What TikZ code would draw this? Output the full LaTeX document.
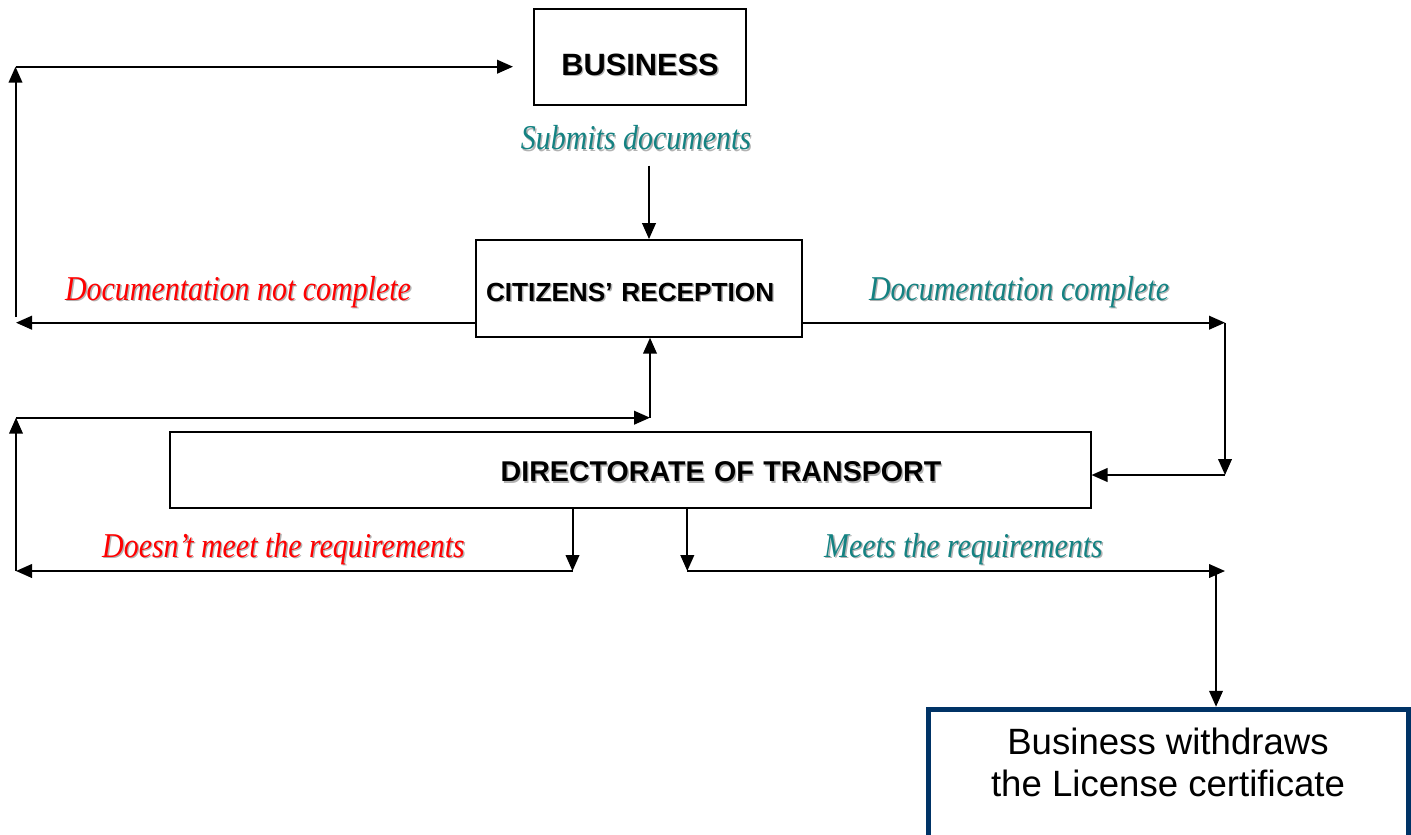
\documentclass[tikz,border=0pt]{standalone}
\usepackage{fontspec}
\setmainfont{Liberation Sans}
\newfontfamily\lblfont[FakeStretch=0.86]{Liberation Serif}
\usetikzlibrary{arrows.meta}
\definecolor{lblteal}{RGB}{20,130,130}
\definecolor{lblred}{RGB}{255,0,0}
\definecolor{boxnavy}{RGB}{0,51,102}
\newcommand\shtext[1]{\rlap{\kern0.7pt\raisebox{-0.7pt}{\color{black!30}#1}}#1}
\begin{document}
\begin{tikzpicture}[x=0.5pt, y=-0.5pt,
  blk/.style={draw, line width=1pt, inner sep=0pt, text depth=0pt},
  arr/.style={line width=1pt, -{Triangle[length=8pt,width=6.8pt]}},
  lbl/.style={anchor=base, inner sep=0pt, font=\lblfont\itshape\fontsize{17.4}{20}\selectfont}]
\useasboundingbox (0,0) rectangle (1411,834);
\node[blk, minimum width=106pt, minimum height=48pt, text height=18pt, font=\bfseries\fontsize{15.4}{18}\selectfont] (biz) at (640,57.5){\shtext{BUSINESS}};
\node[blk, minimum width=163pt, minimum height=48.3pt, text height=13pt, text width=153pt, align=left, inner xsep=5pt, font=\bfseries\fontsize{13.1}{16}\selectfont] (cit) at (639,288.4){\shtext{CITIZENS’ RECEPTION}};
\node[blk, minimum width=460.5pt, minimum height=38.3pt, text height=11.7pt, text width=440pt, align=center, font=\bfseries\fontsize{14.3}{17}\selectfont] (dir) at (630,470){\hspace*{91pt}\shtext{DIRECTORATE OF TRANSPORT}};
\node[draw=boxnavy, line width=2.5pt, minimum width=240pt, minimum height=100pt, anchor=north,
  label={[anchor=north, inner sep=0pt, align=center, yshift=-10.3pt, font=\fontsize{18.3}{21}\selectfont]north:Business withdraws\\the License certificate}] (wd) at (1168,706.75){};
\node[lbl, text=lblteal] (subm) at (636,150){\shtext{Submits documents}};
\node[lbl, text=lblred] (ncomp) at (238,300){\shtext{Documentation not complete}};
\node[lbl, text=lblteal] (comp) at (1019,300){\shtext{Documentation complete}};
\node[lbl, text=lblred] (nmeet) at (283.5,557){\shtext{Doesn’t meet the requirements}};
\node[lbl, text=lblteal] (meet) at (963.5,557){\shtext{Meets the requirements}};
\coordinate (submtop) at (649,165.7);
\coordinate (ncend) at (16,322.7);
\coordinate (ncup) at (15.5,317);
\coordinate (nctop) at (15.5,66.7);
\coordinate (bizin) at (513,66.7);
\coordinate (cpend) at (1225,322.7);
\coordinate (cpdown) at (1225,475);
\coordinate (failend) at (16,571);
\coordinate (failtop) at (16,417.7);
\coordinate (upjoin) at (650,417.7);
\coordinate (fail) at (572.5,571);
\coordinate (pass) at (687.3,571);
\coordinate (passend) at (1225,571);
\coordinate (passdown) at (1216,571);
\draw[arr](submtop) -- (submtop |- cit.north);
\draw[arr](cit.west |- ncend) -- (ncend);
\draw[arr](ncup) -- (nctop);
\draw[arr](nctop) -- (bizin);
\draw[arr](cit.east |- cpend) -- (cpend);
\draw[arr](cpend) -- (cpdown);
\draw[arr](cpdown) -- (dir.east |- cpdown);
\draw[arr](fail |- dir.south) -- (fail);
\draw[arr](pass |- dir.south) -- (pass);
\draw[arr](fail) -- (failend);
\draw[arr](failend) -- (failtop);
\draw[arr](failtop) -- (upjoin);
\draw[arr](upjoin) -- (upjoin |- cit.south);
\draw[arr](pass) -- (passend);
\draw[arr](passdown) -- (passdown |- wd.north);
\end{tikzpicture}
\end{document}
